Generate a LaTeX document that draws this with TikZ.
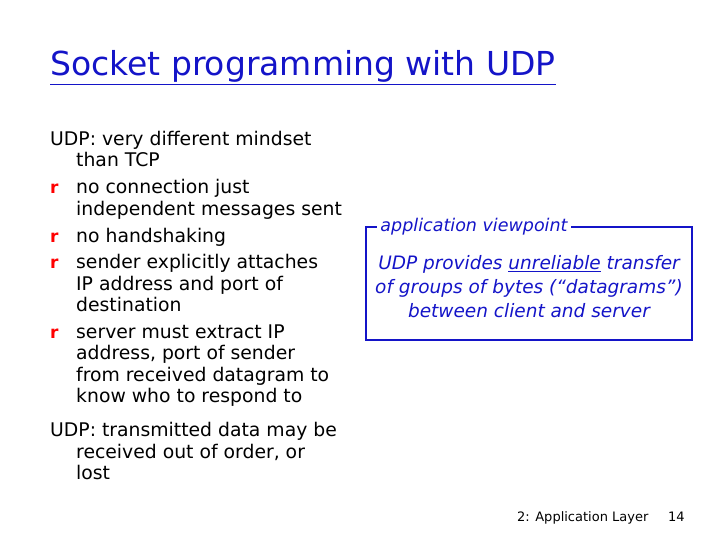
\documentclass[tikz,border=0pt]{standalone}
\usepackage{fontspec}
\setmainfont{DejaVu Sans}
\usetikzlibrary{calc}
\definecolor{tblue}{RGB}{20,20,200}
\begin{document}
\begin{tikzpicture}[x=1pt,y=-1pt,
  txt/.style={anchor=base west,inner sep=0pt,font=\fontsize{18.8}{21}\selectfont},
  bul/.style={anchor=base west,inner sep=0pt,text=red,font=\fontsize{17}{19}\selectfont\bfseries},
  itx/.style={inner sep=0pt,text=tblue,font=\fontsize{17.5}{20}\selectfont\itshape}]
\useasboundingbox (0,0) rectangle (720,540);
\node[anchor=base west,inner sep=0pt,text=tblue,font=\fontsize{33}{36}\selectfont] (title) at (50,76) {\underline{Socket programming with UDP}};
\node[txt] (l1) at (50,146) {UDP: very different mindset};
\node[txt] (l2) at (76,167) {than TCP};
\node[bul] (b1) at (50,194) {r};
\node[txt] (l3) at (76,194) {no connection just};
\node[txt] (l4) at (76,215) {independent messages sent};
\node[bul] (b2) at (50,242) {r};
\node[txt] (l5) at (76,242) {no handshaking};
\node[bul] (b3) at (50,268) {r};
\node[txt] (l6) at (76,268) {sender explicitly attaches};
\node[txt] (l7) at (76,290) {IP address and port of};
\node[txt] (l8) at (76,311) {destination};
\node[bul] (b4) at (50,338) {r};
\node[txt] (l9) at (76,338) {server must extract IP};
\node[txt] (l10) at (76,359) {address, port of sender};
\node[txt] (l11) at (76,381) {from received datagram to};
\node[txt] (l12) at (76,402) {know who to respond to};
\node[txt] (l13) at (50,436) {UDP: transmitted data may be};
\node[txt] (l14) at (76,458) {received out of order, or};
\node[txt] (l15) at (76,479) {lost};
\draw[tblue,line width=1.5pt] (366,227) rectangle (692,340);
\node[itx,fill=white,inner xsep=3pt,inner ysep=2pt] (hdr) at (474,227) {application viewpoint};
\node[itx,align=center,font=\fontsize{18.5}{24}\selectfont\itshape] (body) at (529,287) {UDP provides \underline{unreliable} transfer\\of groups of bytes (``datagrams'')\\between client and server};
\node[anchor=base west,inner sep=0pt,font=\fontsize{13}{15}\selectfont] (f1) at (517,521) {2: Application Layer};
\node[anchor=base west,inner sep=0pt,font=\fontsize{13}{15}\selectfont] (f2) at (668,521) {14};
\end{tikzpicture}
\end{document}
